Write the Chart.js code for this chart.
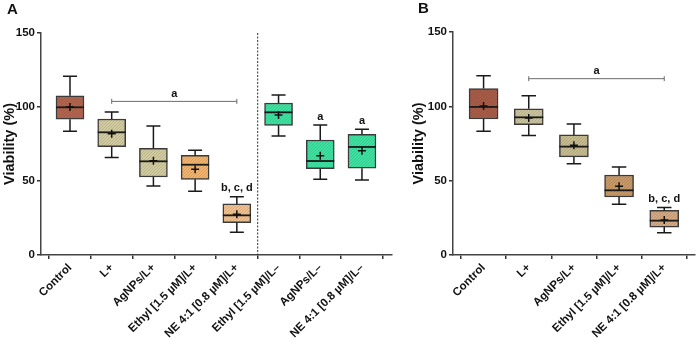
<!DOCTYPE html>
<html>
<head>
<meta charset="utf-8">
<script src="https://cdn.jsdelivr.net/npm/chart.js@4.4.1/dist/chart.umd.min.js"></script>
<style>
  body { margin: 0; background: #fff; }
  #wrap { position: relative; width: 700px; height: 344px; background: #fff; overflow: hidden; }
  canvas { position: absolute; top: 0; }
  .panel { position: absolute; font: bold 15px "Liberation Sans", Arial, sans-serif; color: #111; }
</style>
</head>
<body>
<div id="wrap">
  <canvas id="chartA" width="400" height="344" style="left:0"></canvas>
  <canvas id="chartB" width="291" height="344" style="left:409px"></canvas>
  <div class="panel" style="left:7px; top:0px;">A</div>
  <div class="panel" style="left:418px; top:-1px;">B</div>
</div>
<script>
// panel A
const categoriesA = ['Control', 'L+', 'AgNPs/L+', 'Ethyl [1.5 µM]/L+', 'NE 4:1 [0.8 µM]/L+',
                     'Ethyl [1.5 µM]/L–', 'AgNPs/L–', 'NE 4:1 [0.8 µM]/L–'];
const minA  = [83.6, 65.8, 46.6, 43.0, 15.3, 80.4, 51.1, 50.7];
const q1A   = [91.7, 73.2, 52.7, 51.1, 21.8, 87.6, 58.3, 58.6];
const medA  = [99.8, 82.9, 63.3, 61.0, 26.8, 96.4, 63.5, 73.0];
const q3A   = [107.6, 91.9, 72.1, 67.4, 34.5, 102.7, 77.7, 81.5];
const maxA  = [120.7, 96.6, 87.2, 70.7, 39.4, 108.1, 87.8, 84.9];
const meanA = [100.0, 82.0, 63.7, 57.9, 27.5, 94.6, 67.1, 70.5];
const lettersA = ['', '', '', '', 'b, c, d', '', 'a', 'a'];
const sigA = { from: 1, to: 4, value: 103.8, text: 'a' };

// panel B
const categoriesB = ['Control', 'L+', 'AgNPs/L+', 'Ethyl [1.5 µM]/L+', 'NE 4:1 [0.8 µM]/L+'];
const minB  = [83.2, 80.3, 61.4, 34.1, 15.0];
const q1B   = [91.5, 87.7, 66.0, 39.0, 18.8];
const medB  = [99.6, 92.6, 72.9, 43.5, 23.1];
const q3B   = [112.0, 98.3, 80.8, 53.8, 30.0];
const maxB  = [120.5, 107.2, 88.2, 59.2, 32.0];
const meanB = [100.3, 92.2, 73.8, 46.2, 23.6];
const lettersB = ['', '', '', '', 'b, c, d'];
const sigB = { from: 1, to: 4, value: 118.6, text: 'a' };

const yTicks = [0, 50, 100, 150];

const colorsA = ['#b4654f', '#d3cca0', '#d3cca0', '#f2b46e', '#f1c190', '#3ee3a2', '#3ee3a2', '#3ee3a2'];
const colorsB = ['#a95d48', '#cbc49e', '#c7bc90', '#c99a68', '#d5a981'];

const FONT = '"Liberation Sans", Arial, sans-serif';

// little dotted texture like the original fill
function texture(color) {
  const c = document.createElement('canvas');
  c.width = 3; c.height = 3;
  const g = c.getContext('2d');
  g.fillStyle = color;
  g.fillRect(0, 0, 3, 3);
  g.fillStyle = 'rgba(0,0,0,0.12)';
  g.fillRect(0, 0, 1, 1);
  g.fillRect(2, 1, 1, 1);
  g.fillRect(1, 2, 1, 1);
  return g.createPattern(c, 'repeat');
}

const boxExtras = {
  id: 'boxExtras',
  afterDatasetDraw(chart, args, o) {
    if (args.index !== 0) return;
    const ctx = chart.ctx, xs = chart.scales.x, ys = chart.scales.y;
    ctx.save();
    ctx.strokeStyle = '#1a1a1a';
    for (let i = 0; i < o.min.length; i++) {
      const x = xs.getPixelForValue(i);
      const cap = o.box * 0.5 / 2;
      ctx.lineWidth = 1.5;
      ctx.beginPath();
      ctx.moveTo(x, ys.getPixelForValue(o.q3[i])); ctx.lineTo(x, ys.getPixelForValue(o.max[i]));
      ctx.moveTo(x - cap, ys.getPixelForValue(o.max[i])); ctx.lineTo(x + cap, ys.getPixelForValue(o.max[i]));
      ctx.moveTo(x, ys.getPixelForValue(o.q1[i])); ctx.lineTo(x, ys.getPixelForValue(o.min[i]));
      ctx.moveTo(x - cap, ys.getPixelForValue(o.min[i])); ctx.lineTo(x + cap, ys.getPixelForValue(o.min[i]));
      ctx.stroke();
      ctx.lineWidth = 1.8;
      ctx.beginPath();
      const ym = ys.getPixelForValue(o.med[i]);
      ctx.moveTo(x - o.box / 2, ym); ctx.lineTo(x + o.box / 2, ym);
      ctx.stroke();
    }
    ctx.restore();
  },
  afterDraw(chart, args, o) {
    const ctx = chart.ctx, xs = chart.scales.x, ys = chart.scales.y;
    ctx.save();
    ctx.font = 'bold 11px ' + FONT;
    ctx.fillStyle = '#111';
    ctx.textAlign = 'center';
    ctx.textBaseline = 'bottom';
    // letters above boxes
    o.letters.forEach((t, i) => {
      if (!t) return;
      ctx.fillText(t, xs.getPixelForValue(i), ys.getPixelForValue(o.max[i]) - 3);
    });
    // significance bar
    const s = o.sig;
    const x1 = xs.getPixelForValue(s.from), x2 = xs.getPixelForValue(s.to), y = ys.getPixelForValue(s.value);
    ctx.strokeStyle = '#6b6b6b';
    ctx.lineWidth = 1;
    ctx.beginPath();
    ctx.moveTo(x1, y); ctx.lineTo(x2, y);
    ctx.moveTo(x1, y - 2.5); ctx.lineTo(x1, y + 2.5);
    ctx.moveTo(x2, y - 2.5); ctx.lineTo(x2, y + 2.5);
    ctx.stroke();
    ctx.fillText(s.text, (x1 + x2) / 2, y - 2);
    // dashed separator
    if (o.divider != null) {
      const xd = xs.getPixelForValue(o.divider);
      ctx.strokeStyle = '#333';
      ctx.setLineDash([2, 1.5]);
      ctx.beginPath();
      ctx.moveTo(xd, chart.chartArea.top); ctx.lineTo(xd, chart.chartArea.bottom);
      ctx.stroke();
    }
    ctx.restore();
  }
};

function makeChart(id, cats, mn, q1, med, q3, mx, mean, colors, letters, sig, opt) {
  return new Chart(document.getElementById(id), {
    type: 'bar',
    data: {
      datasets: [{
        type: 'bar',
        data: cats.map((c, i) => ({ x: i, y: [q1[i], q3[i]] })),
        backgroundColor: colors.map(texture),
        borderColor: '#3a3a3a',
        borderWidth: 1.5,
        borderSkipped: false,
        barThickness: opt.box,
        order: 2
      }, {
        type: 'scatter',
        data: mean.map((v, i) => ({ x: i, y: v })),
        pointStyle: 'cross',
        pointRadius: 4,
        borderColor: '#111',
        borderWidth: 1.5,
        order: 1
      }]
    },
    options: {
      responsive: false,
      animation: false,
      layout: { padding: { top: opt.top, right: opt.right, left: 0, bottom: 0 } },
      plugins: {
        legend: { display: false },
        tooltip: { enabled: false },
        boxExtras: { min: mn, q1: q1, med: med, q3: q3, max: mx, box: opt.box, letters: letters, sig: sig, divider: opt.divider }
      },
      scales: {
        x: {
          type: 'linear',
          min: opt.xmin, max: opt.xmax,
          offset: false,
          afterBuildTicks: s => { s.ticks = cats.map((c, i) => ({ value: i })); },
          afterFit: s => { s.height = 89; },
          ticks: {
            autoSkip: false, maxRotation: 45, minRotation: 45,
            color: '#111', padding: 2,
            font: { family: FONT, weight: 'bold', size: 11.5 },
            callback: v => cats[v]
          },
          grid: { drawOnChartArea: false, drawTicks: true, tickLength: 4, color: '#333', lineWidth: 1.5 },
          border: { display: true, color: '#444', width: 1.5 }
        },
        y: {
          min: 0, max: 150,
          afterBuildTicks: s => { s.ticks = yTicks.map(v => ({ value: v })); },
          afterFit: s => { s.width = opt.yw; },
          ticks: { color: '#111', padding: 2, font: { family: FONT, weight: 'bold', size: 11.5 } },
          grid: { drawOnChartArea: false, drawTicks: true, tickLength: 4, color: '#333', lineWidth: 1.5 },
          border: { display: true, color: '#444', width: 1.5 },
          title: { display: true, text: 'Viability (%)', color: '#111', padding: { top: 1, bottom: 1 },
                   font: { family: FONT, weight: 'bold', size: 14.5 } }
        }
      }
    },
    plugins: [boxExtras]
  });
}

makeChart('chartA', categoriesA, minA, q1A, medA, q3A, maxA, meanA, colorsA, lettersA, sigA,
  { box: 28, top: 33, right: 8, yw: 41, xmin: -0.695, xmax: 7.72, divider: 4.5 });
makeChart('chartB', categoriesB, minB, q1B, medB, q3B, maxB, meanB, colorsB, lettersB, sigB,
  { box: 29, top: 32, right: 2, yw: 44, xmin: -0.677, xmax: 4.67, divider: null });
</script>
</body>
</html>
